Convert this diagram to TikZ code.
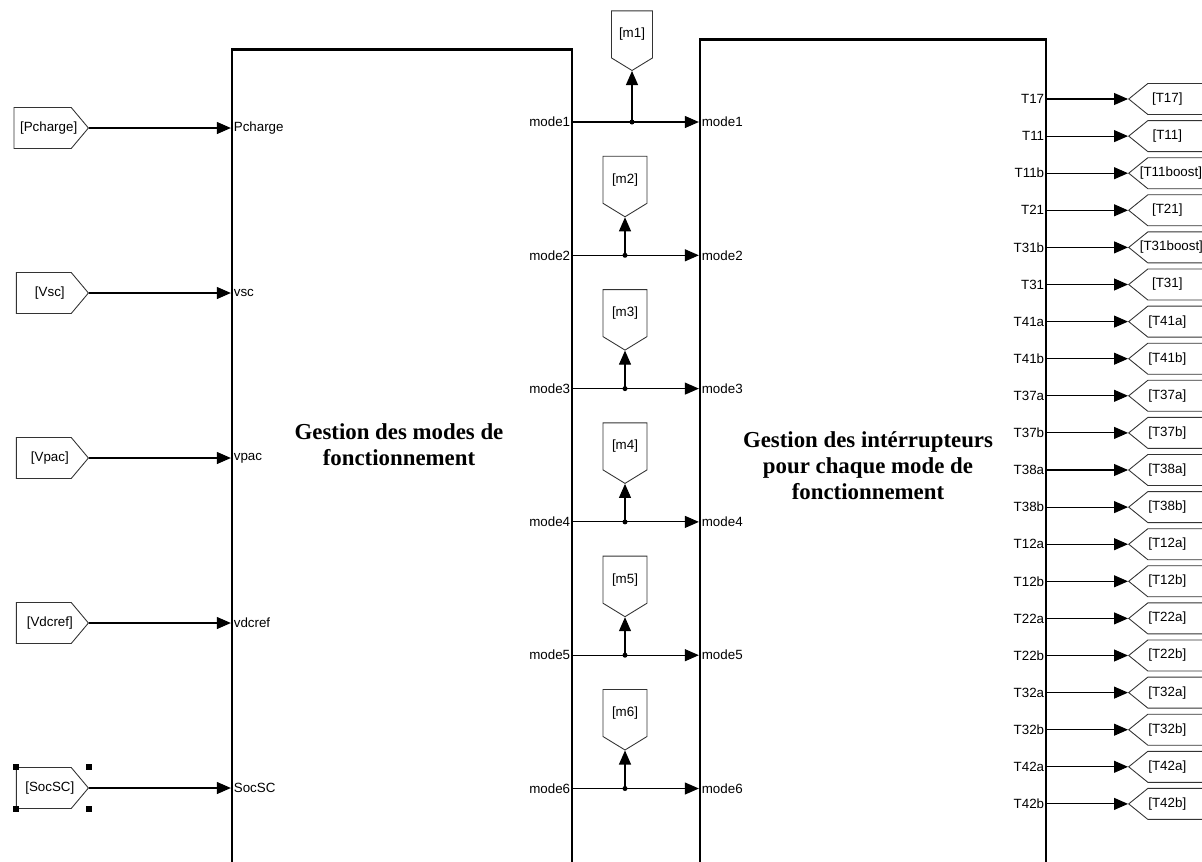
\documentclass[tikz,border=0pt]{standalone}
\usepackage{fontspec}
\setmainfont{Liberation Serif}
\newfontfamily\arial{Liberation Sans}
\usetikzlibrary{arrows.meta,positioning,calc,shapes.symbols}

\begin{document}
\begin{tikzpicture}[x=0.2mm,y=-0.2mm,>={Triangle[length=2.8mm,width=2.4mm]},
 every node/.style={font=\arial\fontsize{7.6}{9}\selectfont},
 blk/.style={draw,line width=1.3pt,inner sep=0pt},
 tin/.style={draw=black!80,line width=.5pt,signal,signal to=east,signal pointer angle=100,minimum width=14.4mm,minimum height=8.2mm,inner sep=0pt,
  execute at begin node=\hspace*{1.2mm},execute at end node=\hspace*{-1.2mm}},
 tout/.style={draw=black!80,line width=.5pt,signal,signal to=west,signal pointer angle=78,minimum width=14.8mm,minimum height=6.2mm,inner sep=0pt,
  execute at begin node=\hspace*{-1.6mm},execute at end node=\hspace*{1.6mm}},
 tmode/.style={draw=black!80,line width=.5pt,signal,signal to=south,signal pointer angle=117,minimum height=11mm,inner sep=0pt},
 port/.style={inner sep=1.5pt},
 wire/.style={->,line width=.6pt},
 ttl/.style={font=\bfseries\fontsize{13}{14.8}\selectfont,align=center}]
 \useasboundingbox (0,0) rectangle (1202,861);
 \clip (0,0) rectangle (1202,861);
 % the two subsystems
 \node[blk,minimum width=68mm,minimum height=166mm] (gm) at (402,464.5) {};
 \node[blk,minimum width=69.2mm,minimum height=168mm] (gi) at (873,459.5) {};
 \node[ttl] (gmt) at (399,445) {Gestion des modes de\\fonctionnement};
 \node[ttl] (git) at (868,466) {Gestion des intérrupteurs\\pour chaque mode de\\fonctionnement};
 % inputs (From tags)
 \foreach \tag/\lab [count=\i] in {Pcharge/Pcharge,Vsc/vsc,Vpac/vpac,Vdcref/vdcref,SocSC/SocSC}{
  \pgfmathsetmacro\y{128+(\i-1)*165}
  \node[tin,anchor=east] (in\i) at (89,\y) {[\tag]};
  \node[port,anchor=west] (pin\i) at (gm.west |- 0,\y) {\lab};
  \draw[wire] (in\i.east) -- (pin\i.west);
 }
 % selection handles
 \foreach \c in {in5.north west,in5.south west,in5.north west -| in5.east,in5.south west -| in5.east}
  \fill (\c) ++(-.6mm,-.6mm) rectangle ++(1.2mm,1.2mm);
 % modes
 \foreach \i/\jx/\dy/\w in {1/632/51/8.2,2/625/38/8.8,3/625/38/8.8,4/625/38/8.8,5/625/38/8.8,6/625/38/8.8}{
  \pgfmathsetmacro\y{122+(\i-1)*133.3}
  \node[port,anchor=east] (mo\i) at (gm.east |- 0,\y) {mode\i};
  \node[port,anchor=west] (mi\i) at (gi.west |- 0,\y) {mode\i};
  \coordinate (j\i) at (\jx,\y);
  \node[tmode,minimum width=\w mm,anchor=south] (m\i) at (\jx,\y-\dy) {[m\i]};
  \draw[wire] (mo\i.east) -- (mi\i.west);
  \draw[wire] (j\i) -- (m\i.south);
  \fill (j\i) circle (.5mm);
 }
 % outputs (Goto tags)
 \foreach \lab/\tag [count=\i] in {T17/T17,T11/T11,T11b/T11boost,T21/T21,T31b/T31boost,T31/T31,T41a/T41a,T41b/T41b,T37a/T37a,T37b/T37b,T38a/T38a,T38b/T38b,T12a/T12a,T12b/T12b,T22a/T22a,T22b/T22b,T32a/T32a,T32b/T32b,T42a/T42a,T42b/T42b}{
  \pgfmathsetmacro\y{99+(\i-1)*37.1}
  \node[port,anchor=east] (po\i) at (gi.east |- 0,\y) {\lab};
  \node[tout,anchor=west] (t\i) at (1128,\y) {[\tag]};
  \draw[wire] (po\i.east) -- (t\i.west);
 }
\end{tikzpicture}
\end{document}
